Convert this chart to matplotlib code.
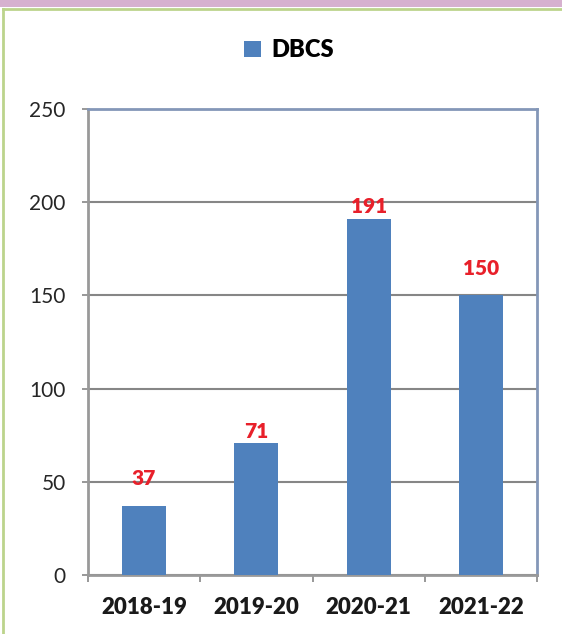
import numpy as np
import matplotlib
matplotlib.use("Agg")
import matplotlib.pyplot as plt
from matplotlib.lines import Line2D
from matplotlib.patches import Rectangle, Patch

# data
years = ["2018-19", "2019-20", "2020-21", "2021-22"]
dbcs = [37, 71, 191, 150]
yticks = [0, 50, 100, 150, 200, 250]

# gap between bar top and label baseline (points) - uneven in the original
label_offsets = [15, 3, 4.3, 14.4]

plt.rcParams["font.family"] = ["Lato", "DejaVu Sans"]

bar_color = "#4f81bd"
grid_color = "#868686"
frame_color = "#8497b8"

fig = plt.figure(figsize=(5.62, 6.34), dpi=100, facecolor="white")
ax = fig.add_axes([88 / 562, 59 / 634, 449 / 562, 466 / 634])

x = np.arange(len(years))
bars = ax.bar(x, dbcs, width=0.39, color=bar_color, zorder=3)

for b, v, off in zip(bars, dbcs, label_offsets):
    ax.annotate(str(v), (b.get_x() + b.get_width() / 2, v),
                xytext=(0, off), textcoords="offset points",
                ha="center", va="baseline", color="#e8202a",
                fontsize=15, fontweight="heavy", zorder=4)

ax.set_xlim(-0.5, len(years) - 0.5)
ax.set_ylim(0, 250)
ax.set_yticks(yticks)
ax.set_yticklabels([str(t) for t in yticks])
ax.tick_params(axis="y", length=4, width=1.2, color=grid_color, pad=12,
               labelsize=15, labelcolor="#262626")

ax.set_xticks(x)
ax.set_xticklabels(years, fontweight="heavy")
ax.tick_params(axis="x", which="major", length=0, pad=16, labelsize=16,
               labelcolor="#1a1a1a")
ax.set_xticks(np.arange(-0.5, len(years)), minor=True)
ax.tick_params(axis="x", which="minor", length=5, width=1.2, color=grid_color,
               direction="out")

ax.grid(axis="y", color=grid_color, linewidth=1.5, zorder=1)
ax.set_axisbelow(True)

for side in ["left", "bottom"]:
    ax.spines[side].set_color("#999999")
    ax.spines[side].set_linewidth(2)
for side in ["top", "right"]:
    ax.spines[side].set_color(frame_color)
    ax.spines[side].set_linewidth(2)

handle = Patch(facecolor=bar_color, edgecolor="none")
fig.legend([handle], ["DBCS"], loc="center", bbox_to_anchor=(0.514, 0.921),
           frameon=False, handlelength=0.7, handleheight=0.7,
           handletextpad=0.45, prop={"size": 17, "weight": "heavy"})

# purple strip at the top and green frame lines
fig.add_artist(Rectangle((0, 1 - 7 / 634), 1, 7 / 634, transform=fig.transFigure,
                         facecolor="#d6b1cf", edgecolor="none"))
fig.add_artist(Line2D([2.5 / 562, 1], [1 - 8.5 / 634, 1 - 8.5 / 634],
                      transform=fig.transFigure, color="#bcd48c", linewidth=2))
fig.add_artist(Line2D([2.5 / 562, 2.5 / 562], [0, 1 - 8.5 / 634],
                      transform=fig.transFigure, color="#bcd48c", linewidth=2))

fig.savefig("out.png", dpi=100, facecolor=fig.get_facecolor())
